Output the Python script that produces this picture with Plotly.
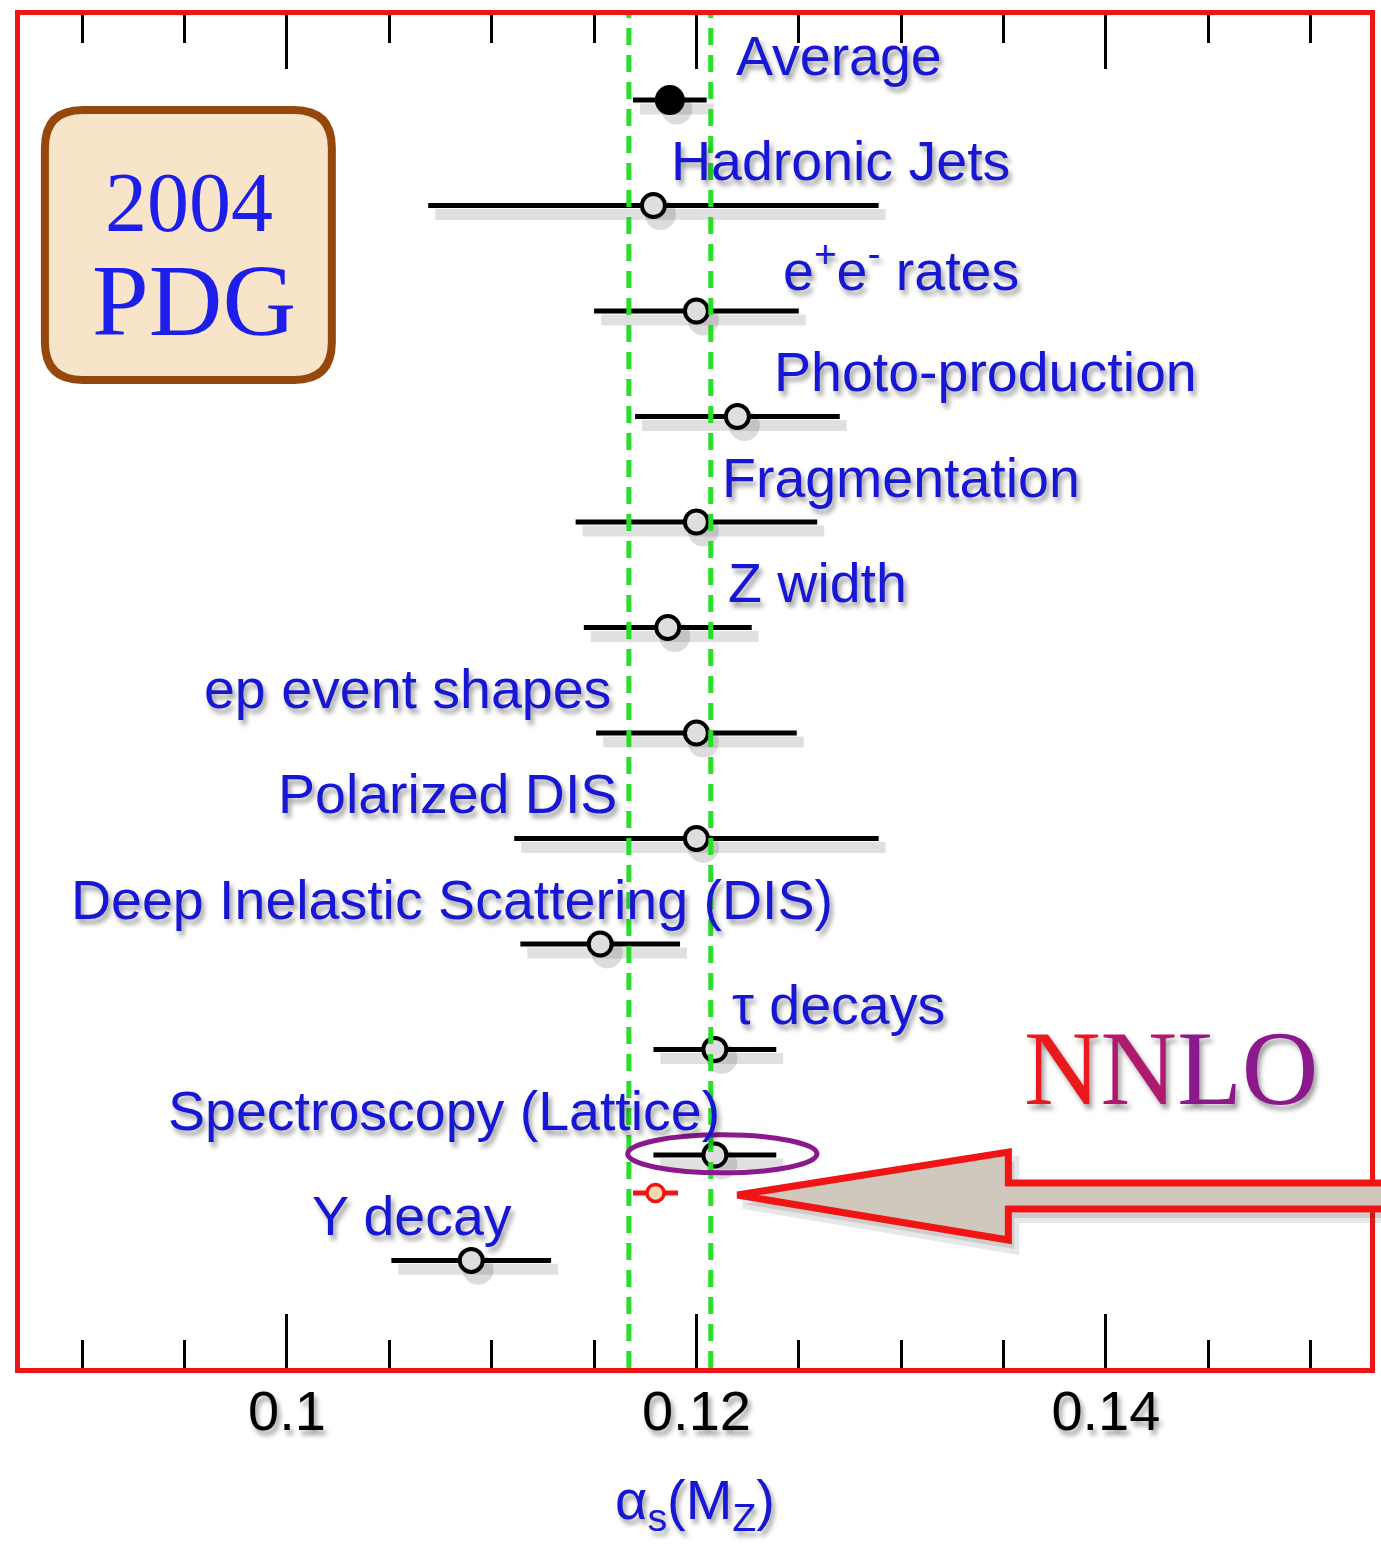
import plotly.graph_objects as go

# alpha_s(M_Z) determinations, grouped by process (top to bottom)
categories = [
    "Average",
    "Hadronic Jets",
    "e<sup>+</sup>e<sup>-</sup> rates",
    "Photo-production",
    "Fragmentation",
    "Z width",
    "ep event shapes",
    "Polarized DIS",
    "Deep Inelastic Scattering (DIS)",
    "τ decays",
    "Spectroscopy (Lattice)",
    "Υ decay",
]
alpha_values = [0.1187, 0.1179, 0.1200, 0.1220, 0.1200, 0.1186,
                0.1200, 0.1200, 0.1153, 0.1209, 0.1209, 0.1090]
alpha_errors = [0.0018, 0.0110, 0.0050, 0.0050, 0.0059, 0.0041,
                0.0049, 0.0089, 0.0039, 0.0030, 0.0030, 0.0039]

# NNLO lattice result
nnlo_value = [0.1180]
nnlo_error = [0.0011]

# world-average band edges
band_edges = [0.1167, 0.1207]

tick_values = [0.10, 0.12, 0.14]
tick_labels = ["0.1", "0.12", "0.14"]

# ---------------------------------------------------------------- geometry
W, H = 1381, 1547
L, R, T, B = 20, 1375, 15, 1368          # plot-area pixel box
X_RANGE = [0.08696, 0.15290]
Y_RANGE = [12.02, -0.806]                # rows, top to bottom


def px_to_x(px):
    return X_RANGE[0] + (px - L) / (R - L) * (X_RANGE[1] - X_RANGE[0])


def pxp(px):   # pixel -> paper x
    return (px - L) / (R - L)


def pyp(py):   # pixel -> paper y
    return (B - py) / (B - T)


rows = list(range(len(categories)))
nnlo_row = 10.36

BLUE = "rgb(22,22,212)"
GREEN = "rgb(40,222,40)"
RED = "rgb(240,20,20)"
PURPLE = "rgb(140,25,140)"
SHADOW = "3px 5px 5px rgba(0,0,0,0.38)"

fig = go.Figure()

# soft drop shadow under the bars and markers
sdx, sdy = 0.00034, 0.085
shx, shy = [], []
for v, e, r in zip(alpha_values, alpha_errors, rows):
    shx += [v - e + sdx, v + e + sdx, None]
    shy += [r + sdy, r + sdy, None]
fig.add_trace(go.Scatter(x=shx, y=shy, mode="lines",
                         line=dict(color="rgba(60,60,60,0.16)", width=11),
                         hoverinfo="skip", showlegend=False))
fig.add_trace(go.Scatter(x=[v + sdx for v in alpha_values],
                         y=[r + sdy for r in rows], mode="markers",
                         marker=dict(size=31, color="rgba(60,60,60,0.18)"),
                         hoverinfo="skip", showlegend=False))

# measurements with open markers
fig.add_trace(go.Scatter(
    x=alpha_values[1:], y=rows[1:], mode="markers",
    error_x=dict(type="data", array=alpha_errors[1:], color="black",
                 thickness=5, width=0),
    marker=dict(size=23, color="rgb(222,222,222)",
                line=dict(color="black", width=4)),
    showlegend=False))

# average, filled marker
fig.add_trace(go.Scatter(
    x=alpha_values[:1], y=rows[:1], mode="markers",
    error_x=dict(type="data", array=alpha_errors[:1], color="black",
                 thickness=5, width=0),
    marker=dict(size=30, color="black"),
    showlegend=False))

# NNLO point
fig.add_trace(go.Scatter(
    x=nnlo_value, y=[nnlo_row], mode="markers",
    error_x=dict(type="data", array=nnlo_error, color=RED,
                 thickness=5, width=0),
    marker=dict(size=17, color="rgb(250,215,170)",
                line=dict(color=RED, width=3.5)),
    showlegend=False))

shapes = []

# dashed average band
for xv in band_edges:
    shapes.append(dict(type="line", xref="x", yref="paper", x0=xv, x1=xv,
                       y0=0, y1=1, layer="above",
                       line=dict(color=GREEN, width=5, dash="17px,10px")))

# ellipse around the lattice point
lat = categories.index("Spectroscopy (Lattice)")
shapes.append(dict(type="circle", xref="x", yref="y",
                   x0=alpha_values[lat] - 0.00426, x1=alpha_values[lat] + 0.00499,
                   y0=lat - 0.19, y1=lat + 0.17,
                   line=dict(color=PURPLE, width=5)))

# rounded badge
bx0, by0, bx1, by1, rad = 45, 110, 333, 380, 38
badge = (f"M {pxp(bx0+rad)},{pyp(by0)} L {pxp(bx1-rad)},{pyp(by0)} "
         f"Q {pxp(bx1)},{pyp(by0)} {pxp(bx1)},{pyp(by0+rad)} "
         f"L {pxp(bx1)},{pyp(by1-rad)} "
         f"Q {pxp(bx1)},{pyp(by1)} {pxp(bx1-rad)},{pyp(by1)} "
         f"L {pxp(bx0+rad)},{pyp(by1)} "
         f"Q {pxp(bx0)},{pyp(by1)} {pxp(bx0)},{pyp(by1-rad)} "
         f"L {pxp(bx0)},{pyp(by0+rad)} "
         f"Q {pxp(bx0)},{pyp(by0)} {pxp(bx0+rad)},{pyp(by0)} Z")
shapes.append(dict(type="path", xref="paper", yref="paper", path=badge,
                   fillcolor="rgb(248,228,200)",
                   line=dict(color="rgb(150,72,12)", width=8)))

# big hollow arrow pointing at the NNLO point
arrow_pts = [(1390, 1183), (1012, 1183), (1012, 1152), (740, 1195),
             (1012, 1240), (1012, 1209), (1390, 1209)]
arrow = "M " + " L ".join(f"{pxp(a)},{pyp(b)}" for a, b in arrow_pts) + " Z"
arrow_sh = "M " + " L ".join(f"{pxp(a+6)},{pyp(b+9)}" for a, b in arrow_pts) + " Z"
shapes.append(dict(type="path", xref="paper", yref="paper", path=arrow_sh,
                   fillcolor="rgba(60,60,60,0.15)",
                   line=dict(color="rgba(60,60,60,0.12)", width=10)))
shapes.append(dict(type="path", xref="paper", yref="paper", path=arrow,
                   fillcolor="rgb(208,200,188)",
                   line=dict(color=RED, width=7)))

# labels above each measurement
label_place = [
    (738, "left"), (672, "left"), (785, "left"), (776, "left"),
    (724, "left"), (730, "left"), (614, "right"), (620, "right"),
    (70, "left"), (734, "left"), (724, "right"), (312, "left"),
]
annotations = []
for name, r, (lx, anchor) in zip(categories, rows, label_place):
    annotations.append(dict(
        x=px_to_x(lx), y=r - 0.42, xref="x", yref="y", text=name,
        showarrow=False, xanchor=anchor, yanchor="middle", borderpad=0,
        font=dict(family="Liberation Sans, Arial, sans-serif", size=55.5,
                  color=BLUE, shadow=SHADOW)))

serif = "Liberation Serif, Times New Roman, serif"
annotations.append(dict(x=pxp(190), y=pyp(203), xref="paper", yref="paper",
                        xanchor="center", yanchor="middle",
                        text="2004", showarrow=False,
                        font=dict(family=serif, size=84, color="rgb(30,30,235)")))
annotations.append(dict(x=pxp(195), y=pyp(300), xref="paper", yref="paper",
                        xanchor="center", yanchor="middle",
                        text="PDG", showarrow=False,
                        font=dict(family=serif, size=102, color="rgb(30,30,235)")))
annotations.append(dict(
    x=pxp(1175), y=pyp(1068), xref="paper", yref="paper", showarrow=False,
    xanchor="center", yanchor="middle",
    text=("<span style='color:rgb(235,25,30)'>N</span>"
          "<span style='color:rgb(175,25,110)'>N</span>"
          "<span style='color:rgb(140,25,140)'>LO</span>"),
    font=dict(family=serif, size=106, color=PURPLE, shadow=SHADOW)))

fig.update_layout(
    width=W, height=H,
    margin=dict(l=L, r=W - R, t=T, b=H - B, pad=0),
    paper_bgcolor="white", plot_bgcolor="white",
    shapes=shapes, annotations=annotations,
    font=dict(family="Liberation Sans, Arial, sans-serif"),
    xaxis=dict(
        range=X_RANGE, showgrid=False, zeroline=False,
        showline=True, linecolor=RED, linewidth=5, mirror="allticks",
        ticks="inside", ticklen=54, tickwidth=3, tickcolor="black",
        tickvals=tick_values, ticktext=tick_labels,
        ticklabelstandoff=-10,
        tickfont=dict(size=56, color="black", shadow=SHADOW),
        minor=dict(dtick=0.005, tick0=0.09, ticks="inside", ticklen=28,
                   tickwidth=3, tickcolor="black"),
        title=dict(text="α<sub>s</sub>(M<sub>Z</sub>)", standoff=40,
                   font=dict(size=56, color=BLUE, shadow=SHADOW)),
    ),
    yaxis=dict(
        range=Y_RANGE, showgrid=False, zeroline=False, showticklabels=False,
        showline=True, linecolor=RED, linewidth=5, mirror=True, ticks="",
    ),
)

fig.write_html("out.html")
